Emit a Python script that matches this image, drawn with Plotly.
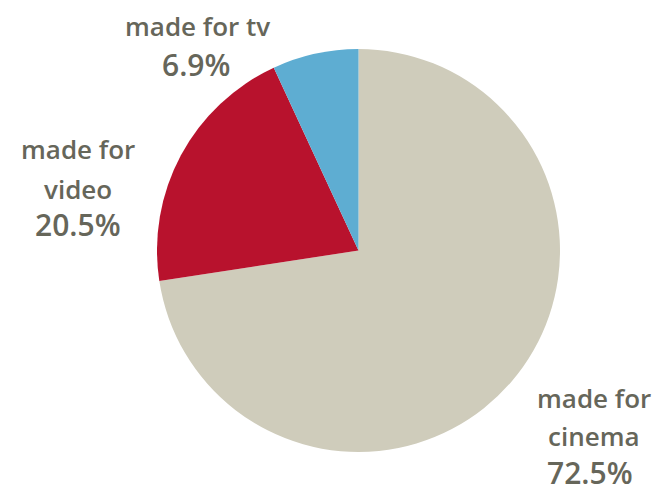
import plotly.graph_objects as go

# Share of titles by release channel
categories = ["made for cinema", "made for video", "made for tv"]
label_lines = [["made for", "cinema"], ["made for", "video"], ["made for tv"]]
shares = [72.5, 20.5, 6.9]
colors = ["#cfccbb", "#b8122d", "#5eadd2"]

W, H = 659, 486
TEXT = "#66665a"
FONT = "Open Sans"

fig = go.Figure(go.Pie(
    labels=categories,
    values=shares,
    sort=False,
    direction="clockwise",
    rotation=0,
    marker=dict(colors=colors, line=dict(width=0)),
    textinfo="none",
    hoverinfo="label+percent",
    showlegend=False,
    domain=dict(x=[157 / W, 560 / W], y=[34 / H, 437 / H]),
))

# label anchor points (pixel centres of each text line) per category
line_centres = {
    "made for cinema": (594, [397.5, 435.5], (590, 472)),
    "made for video": (78, [148.5, 188.5], (77.5, 224)),
    "made for tv": (197, [26], (196, 64)),
}

annotations = []
for cat, lines, val in zip(categories, label_lines, shares):
    cx, ys, (px, py) = line_centres[cat]
    for txt, y in zip(lines, ys):
        annotations.append(dict(
            text=txt, x=cx / W, y=1 - y / H, xref="paper", yref="paper",
            xanchor="center", yanchor="middle", showarrow=False, borderpad=0,
            font=dict(family=FONT, size=26, color=TEXT, weight=600),
        ))
    annotations.append(dict(
        text=f"{val}%", x=px / W, y=1 - py / H, xref="paper", yref="paper",
        xanchor="center", yanchor="middle", showarrow=False, borderpad=0,
        font=dict(family=FONT, size=30, color=TEXT, weight=600),
    ))

fig.update_layout(
    width=W, height=H,
    margin=dict(l=0, r=0, t=0, b=0),
    paper_bgcolor="white",
    plot_bgcolor="white",
    annotations=annotations,
)

fig.write_html("out.html")
